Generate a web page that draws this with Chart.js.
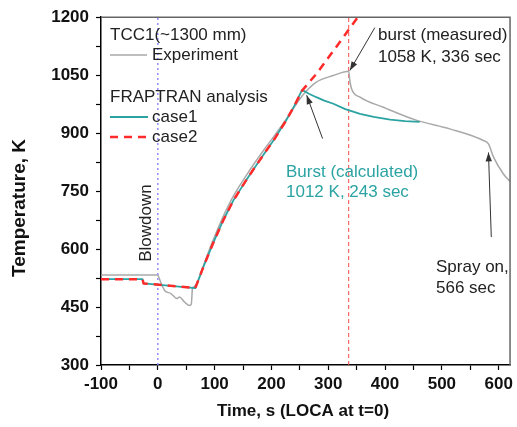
<!DOCTYPE html>
<html><head><meta charset="utf-8">
<script src="https://cdn.jsdelivr.net/npm/chart.js@4"></script>
<style>body{margin:0;background:#fff}canvas{display:block}</style>
</head><body>
<canvas id="c" width="517" height="427"></canvas>
<script>
// ---- data ----
const expTime  = [-100, -2, 0, 6, 12, 23, 34, 38, 47, 56, 59, 61, 64, 70, 80, 97, 115, 133, 159, 185, 205, 227, 255, 279, 309, 336, 338, 341, 356, 397, 456, 514, 573, 582, 591, 608, 620];
const expTemp  = [533, 533, 532, 511, 493, 485, 472, 476, 463, 454, 458, 498, 503, 515, 556, 622, 684, 737, 798, 853, 893, 938, 998, 1032, 1049, 1060, 1036, 1015, 993, 967, 933, 911, 881, 872, 838, 795, 775];
const case1Time = [-100, -27, -25, 66, 80, 97, 115, 133, 159, 185, 205, 226, 240, 254, 266, 279, 293, 309, 330, 356, 380, 409, 435, 461];
const case1Temp = [522, 522, 511, 499, 553, 614, 674, 726, 786, 842, 884, 933, 970, 1012, 1002, 993, 984, 976, 962, 950, 942, 935, 931, 929];
const case2Time = [-100, -27, -25, 66, 80, 97, 115, 133, 159, 185, 205, 226, 240, 254, 280, 300, 325, 352];
const case2Temp = [522, 522, 511, 499, 553, 614, 674, 726, 786, 842, 884, 933, 970, 1010, 1055, 1095, 1145, 1200];
const blowdownTime = 0;
const burstMeasuredTime = 336;
const xTickLabels = [-100, 0, 100, 200, 300, 400, 500, 600];
const yTickLabels = [300, 450, 600, 750, 900, 1050, 1200];

const FONT = "'Liberation Sans', Arial, sans-serif";
const TEAL = '#2ba3a3';
const RED = '#ff2a2a';
const GREY = '#a9a9a9';

function pts(xs, ys){ return xs.map((x,i)=>({x, y: ys[i]})); }
function withMinor(list){
  const out = [];
  for (let i=0;i<list.length;i++){
    out.push(list[i]);
    if (i<list.length-1) out.push((list[i]+list[i+1])/2);
  }
  return out;
}

const annot = {
  id: 'annot',
  afterDraw(chart){
    const {ctx, chartArea: a, scales:{x, y}} = chart;
    ctx.save();
    // top / right frame
    ctx.strokeStyle = '#666'; ctx.lineWidth = 1.5;
    ctx.beginPath(); ctx.moveTo(a.left, a.top); ctx.lineTo(a.right, a.top); ctx.lineTo(a.right, a.bottom); ctx.stroke();

    const txt = (s, px, py, color, font) => {
      ctx.fillStyle = color || '#222';
      ctx.font = font || ('17px ' + FONT);
      ctx.textAlign = 'left'; ctx.textBaseline = 'middle';
      ctx.fillText(s, px, py);
    };
    const seg = (x1,y1,x2,y2,color,w,dash) => {
      ctx.save(); ctx.strokeStyle=color; ctx.lineWidth=w; ctx.setLineDash(dash||[]);
      ctx.beginPath(); ctx.moveTo(x1,y1); ctx.lineTo(x2,y2); ctx.stroke(); ctx.restore();
    };
    const arrow = (tx,ty,hx,hy) => {
      const X1=x.getPixelForValue(tx), Y1=y.getPixelForValue(ty);
      const X2=x.getPixelForValue(hx), Y2=y.getPixelForValue(hy);
      ctx.save(); ctx.strokeStyle='#333'; ctx.fillStyle='#333'; ctx.lineWidth=1;
      ctx.beginPath(); ctx.moveTo(X1,Y1); ctx.lineTo(X2,Y2); ctx.stroke();
      const ang = Math.atan2(Y2-Y1, X2-X1), L=9, W=3.2;
      ctx.beginPath(); ctx.moveTo(X2,Y2);
      ctx.lineTo(X2 - L*Math.cos(ang) + W*Math.sin(ang), Y2 - L*Math.sin(ang) - W*Math.cos(ang));
      ctx.lineTo(X2 - L*Math.cos(ang) - W*Math.sin(ang), Y2 - L*Math.sin(ang) + W*Math.cos(ang));
      ctx.closePath(); ctx.fill(); ctx.restore();
    };

    // legend block
    txt('TCC1(~1300 mm)', 110, 35);
    seg(110, 55, 147, 55, GREY, 1.5);
    txt('Experiment', 152, 55);
    txt('FRAPTRAN analysis', 110, 97);
    seg(110, 117, 148, 117, TEAL, 1.8);
    txt('case1', 152, 117);
    seg(110, 137, 150, 137, RED, 2.5, [8,6]);
    txt('case2', 152, 137);

    // annotations
    txt('burst (measured)', 378, 35);
    txt('1058 K, 336 sec', 378, 57);
    arrow(382, 1173, 338, 1062);
    txt('Burst (calculated)', 286, 172, TEAL);
    txt('1012 K, 243 sec', 286, 192, TEAL);
    arrow(290, 886, 262, 998);
    txt('Spray on,', 436, 267);
    txt('566 sec', 436, 288);
    arrow(587, 631, 582, 850);

    // Blowdown (rotated)
    ctx.save();
    ctx.translate(146, 223); ctx.rotate(-Math.PI/2);
    ctx.fillStyle = '#222'; ctx.font = '17px ' + FONT;
    ctx.textAlign = 'center'; ctx.textBaseline = 'middle';
    ctx.fillText('Blowdown', 0, 0);
    ctx.restore();

    // axis titles
    ctx.save();
    ctx.fillStyle = '#111'; ctx.font = 'bold 17px ' + FONT;
    ctx.textAlign = 'center'; ctx.textBaseline = 'middle';
    ctx.fillText('Time, s (LOCA at t=0)', 303, 411);
    ctx.translate(20, 208); ctx.rotate(-Math.PI/2);
    ctx.font = 'bold 19px ' + FONT;
    ctx.fillText('Temperature, K', 0, 0);
    ctx.restore();
    ctx.restore();
  }
};

new Chart(document.getElementById('c'), {
  type: 'line',
  data: {
    datasets: [
      { label: 'case2', data: pts(case2Time, case2Temp), borderColor: RED, borderWidth: 2.5, borderDash: [8,6], order: 0, tension: 0 },
      { label: 'case1', data: pts(case1Time, case1Temp), borderColor: TEAL, borderWidth: 1.8, order: 1, tension: 0 },
      { label: 'Experiment', data: pts(expTime, expTemp), borderColor: GREY, borderWidth: 1.5, order: 2, cubicInterpolationMode: 'monotone' },
      { label: 'blowdown', data: [{x: blowdownTime, y: 300}, {x: blowdownTime, y: 1200}], borderColor: '#8c8cff', borderWidth: 1.5, borderDash: [2,3], order: 3 },
      { label: 'burst', data: [{x: burstMeasuredTime, y: 300}, {x: burstMeasuredTime, y: 1200}], borderColor: '#ff4a4a', borderWidth: 1, borderDash: [4,3], order: 3 }
    ]
  },
  options: {
    responsive: false,
    animation: false,
    devicePixelRatio: 1,
    elements: { point: { radius: 0 }, line: { borderJoinStyle: 'round' } },
    layout: { padding: { top: 17, right: 5, left: 0, bottom: 0 } },
    plugins: { legend: { display: false }, tooltip: { enabled: false } },
    scales: {
      x: {
        type: 'linear', min: -100, max: 620,
        afterBuildTicks: s => { s.ticks = withMinor(xTickLabels).map(v => ({value: v})); },
        afterFit: s => { s.height = 62; },
        grid: { display: true, drawOnChartArea: false, drawTicks: true, tickLength: 5, color: '#000', tickColor: '#000', tickWidth: 1.2 },
        border: { color: '#000', width: 1.5 },
        ticks: {
          autoSkip: false, maxRotation: 0, padding: 4, color: '#111',
          font: { family: FONT, size: 17, weight: 'bold' },
          callback: v => xTickLabels.includes(v) ? String(v) : ''
        }
      },
      y: {
        type: 'linear', min: 300, max: 1200,
        afterBuildTicks: s => { s.ticks = withMinor(yTickLabels).map(v => ({value: v})); },
        afterFit: s => { s.width = 101; },
        grid: { display: true, drawOnChartArea: false, drawTicks: true, tickLength: 5, color: '#000', tickColor: '#000', tickWidth: 1.2 },
        border: { color: '#000', width: 1.5 },
        ticks: {
          autoSkip: false, padding: 7, color: '#111',
          font: { family: FONT, size: 17, weight: 'bold' },
          callback: v => yTickLabels.includes(v) ? String(v) : ''
        }
      }
    }
  },
  plugins: [annot]
});
</script>
</body></html>
